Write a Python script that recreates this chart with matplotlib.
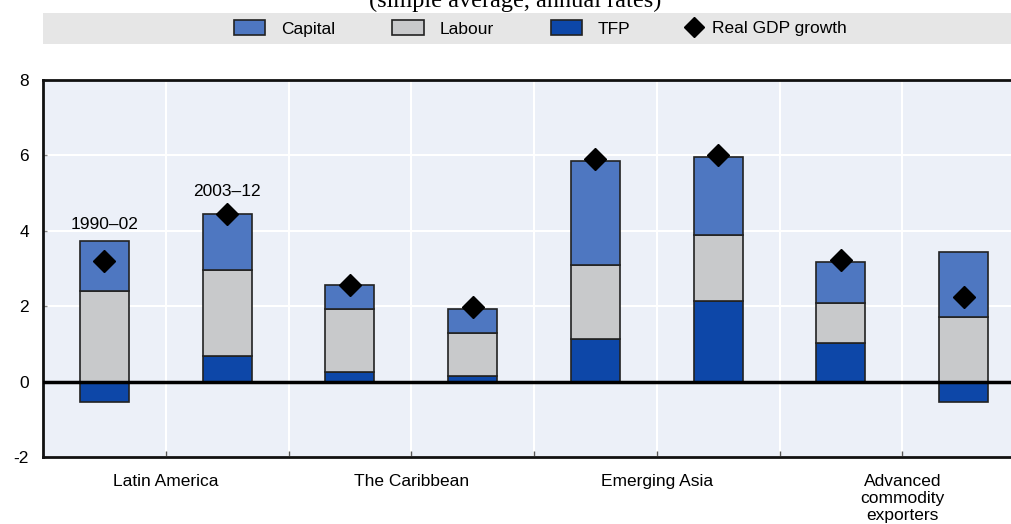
import matplotlib
matplotlib.use("Agg")
import matplotlib.pyplot as plt
from matplotlib.patches import Patch, Rectangle
from matplotlib.lines import Line2D
import numpy as np

plt.rcParams['font.family'] = ['Liberation Sans', 'DejaVu Sans']

# contributions to growth, 1990-02 / 2003-12 for each region
groups = ['Latin America', 'The Caribbean', 'Emerging Asia', 'Advanced\ncommodity\nexporters']
periods = ['1990\u201302', '2003\u201312']
tfp = [-0.55, 0.69, 0.26, 0.16, 1.12, 2.13, 1.02, -0.55]
labour = [2.40, 2.26, 1.66, 1.12, 1.98, 1.77, 1.06, 1.71]
capital = [1.34, 1.50, 0.65, 0.65, 2.74, 2.05, 1.08, 1.72]
gdp = [3.20, 4.45, 2.56, 1.97, 5.90, 6.00, 3.22, 2.24]

c_cap = '#4E77C1'
c_lab = '#C8C9CB'
c_tfp = '#0D47A8'
edge = '#222222'

W, H = 1011, 524
fig = plt.figure(figsize=(W / 100, H / 100), dpi=100)
ax = fig.add_axes([43 / W, 1 - 457 / H, (1025 - 43) / W, (457 - 80) / H])
ax.set_facecolor('#ECF0F8')

x = np.arange(len(tfp))
tfp_a = np.array(tfp)
lab_base = np.where(tfp_a > 0, tfp_a, 0)
cap_base = lab_base + np.array(labour)
tops = cap_base + np.array(capital)
bw = 0.4
ax.bar(x, tfp, bw, color=c_tfp, edgecolor=edge, linewidth=1.2, zorder=3)
ax.bar(x, labour, bw, bottom=lab_base, color=c_lab, edgecolor=edge, linewidth=1.2, zorder=3)
ax.bar(x, capital, bw, bottom=cap_base, color=c_cap, edgecolor=edge, linewidth=1.2, zorder=3)
ax.plot(x, gdp, 'D', color='black', markersize=11, zorder=4)
ax.axhline(0, color='black', linewidth=2.5, zorder=5)

# period labels on the first group
for i, p in enumerate(periods):
    yy = max(tops[i], gdp[i])
    off = 6.5 if tops[i] >= gdp[i] else 10.5
    ax.annotate(p, (x[i], yy), xytext=(0, off), textcoords='offset points',
                ha='center', va='bottom', fontsize=12.5)

ax.set_xlim(-0.5, 7.5)
ax.set_ylim(-2, 8)
ax.set_yticks([-2, 0, 2, 4, 6, 8])
ax.set_yticklabels(['-2', '0', '2', '4', '6', '8'])
ticks = np.arange(0.5, 7, 1.0)
ax.set_xticks(ticks)
lbls = [''] * len(ticks)
for k, g in enumerate(groups):
    lbls[2 * k] = g
ax.set_xticklabels(lbls, linespacing=1.2)
ax.tick_params(axis='x', direction='in', length=4, width=1, color='#555555', pad=12, labelsize=12.5)
ax.tick_params(axis='y', direction='in', length=3, width=1, color='#888888', pad=10, labelsize=12.5)
ax.grid(True, color='white', linewidth=1.5, zorder=0)
ax.set_axisbelow(True)
for s in ['top', 'bottom', 'left']:
    ax.spines[s].set_linewidth(2)
    ax.spines[s].set_color('#111111')
ax.spines['right'].set_visible(False)

# legend band
fig.patches.append(Rectangle((43 / W, 1 - 44 / H), 1 - 43 / W, 31 / H,
                             transform=fig.transFigure, facecolor='#E6E6E6', edgecolor='none', zorder=0))
bar_handles = [Patch(facecolor=c_cap, edgecolor=edge, linewidth=1.2),
               Patch(facecolor=c_lab, edgecolor=edge, linewidth=1.2),
               Patch(facecolor=c_tfp, edgecolor=edge, linewidth=1.2)]
fig.legend(bar_handles, ['Capital', 'Labour', 'TFP'], ncol=3,
           loc='center left', bbox_to_anchor=(234 / W, 1 - 28.5 / H), frameon=False,
           borderpad=0, borderaxespad=0,
           fontsize=12.5, handlelength=1.8, handleheight=0.9, columnspacing=3.3,
           handletextpad=0.9)
gdp_handle = Line2D([], [], marker='D', color='black', linestyle='none', markersize=10)
fig.legend([gdp_handle], ['Real GDP growth'], loc='center left',
           bbox_to_anchor=(685 / W, 1 - 28.5 / H), frameon=False, borderpad=0, borderaxespad=0,
           fontsize=12.5, handlelength=1.0, handletextpad=0.55)

fig.text(515 / W, 1 - 7 / H, '(simple average, annual rates)', ha='center', va='baseline',
         fontsize=17.5, family=['Liberation Serif', 'DejaVu Serif'])

fig.savefig('out.png', dpi=100)
